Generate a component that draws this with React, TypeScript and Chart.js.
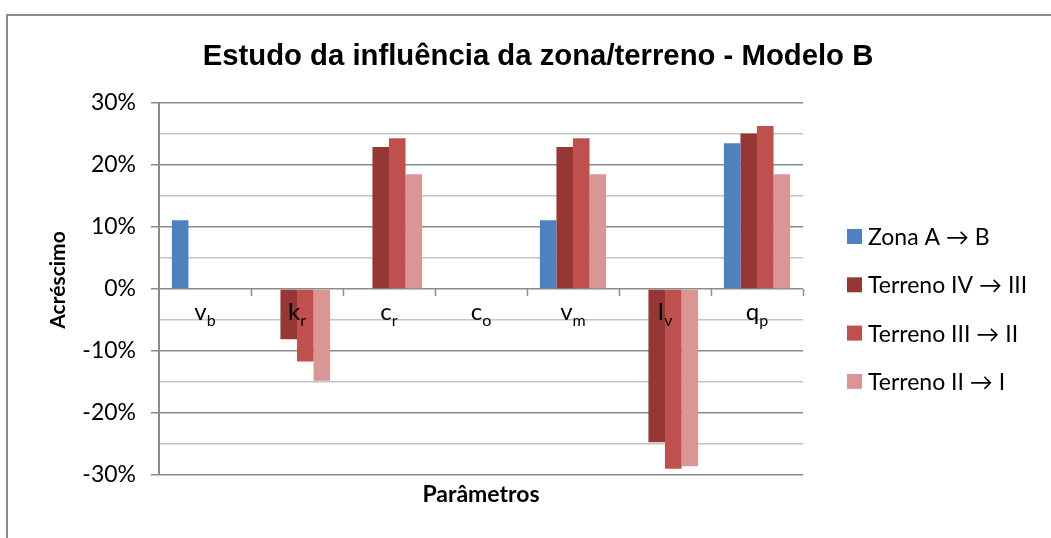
import React, { useEffect, useRef } from "react";
import { Chart, registerables } from "chart.js";

Chart.register(...registerables);

const titleText = "Estudo da influência da zona/terreno - Modelo B";
const yTitle = "Acréscimo";
const xTitle = "Parâmetros";

const catMain = ["v", "k", "c", "c", "v", "I", "q"];
const catSub = ["b", "r", "r", "o", "m", "v", "p"];

const seriesNames = ["Zona A \u2192 B", "Terreno IV \u2192 III", "Terreno III \u2192 II", "Terreno II \u2192 I"];
const seriesColors = ["#4F81BD", "#953735", "#C0504D", "#D99694"];

const zonaAB = [11.1, null, null, null, 11.1, null, 23.5];
const terrenoIVIII = [null, -8.1, 22.9, null, 22.9, -24.7, 25.1];
const terrenoIIIII = [null, -11.7, 24.3, null, 24.3, -29.0, 26.3];
const terrenoIII = [null, -14.8, 18.5, null, 18.5, -28.6, 18.5];

const yMin = -30;
const yMax = 30;
const yStep = 5;
const yLabelStep = 10;

const FONT = "Lato, 'Open Sans', sans-serif";

const overlay = {
  id: "overlay",
  beforeDraw(chart: any) {
    const ctx = chart.ctx;
    ctx.save();
    ctx.fillStyle = "#ffffff";
    ctx.fillRect(0, 0, chart.width, chart.height);
    ctx.strokeStyle = "#8c8c8c";
    ctx.lineWidth = 2;
    ctx.beginPath();
    ctx.moveTo(7, chart.height + 5);
    ctx.lineTo(7, 15);
    ctx.lineTo(chart.width + 5, 15);
    ctx.stroke();

    ctx.fillStyle = "#000";
    ctx.font = "bold 29.3px 'Liberation Sans', Arial, sans-serif";
    ctx.textAlign = "center";
    ctx.textBaseline = "middle";
    ctx.fillText(titleText, 538, 57);

    ctx.font = `bold 21px ${FONT}`;
    ctx.translate(58, 280);
    ctx.rotate(-Math.PI / 2);
    ctx.fillText(yTitle, 0, 0);
    ctx.restore();
  },
  afterDatasetsDraw(chart: any) {
    const ctx = chart.ctx;
    const xs = chart.scales.x;
    const ys = chart.scales.y;
    const y0 = ys.getPixelForValue(0);
    const area = chart.chartArea;
    ctx.save();
    ctx.strokeStyle = "#8a8a8a";
    ctx.lineWidth = 1.5;
    const n = catMain.length;
    const w = (area.right - area.left) / n;
    ctx.beginPath();
    for (let i = 1; i <= n; i++) {
      const x = Math.round(area.left + i * w) + 0.5;
      ctx.moveTo(x, y0);
      ctx.lineTo(x, y0 + 7);
    }
    ctx.stroke();

    ctx.fillStyle = "#000";
    ctx.textBaseline = "alphabetic";
    ctx.textAlign = "left";
    for (let i = 0; i < n; i++) {
      const cx = xs.getPixelForValue(i);
      ctx.font = `24px ${FONT}`;
      const w1 = ctx.measureText(catMain[i]).width;
      ctx.font = `16px ${FONT}`;
      const w2 = ctx.measureText(catSub[i]).width;
      const sx = cx - (w1 + w2) / 2;
      ctx.font = `24px ${FONT}`;
      ctx.fillText(catMain[i], sx, y0 + 30.5);
      ctx.font = `16px ${FONT}`;
      ctx.fillText(catSub[i], sx + w1, y0 + 37);
    }

    const ds = chart.data.datasets;
    ctx.font = `23px ${FONT}`;
    ctx.textBaseline = "middle";
    for (let i = 0; i < ds.length; i++) {
      const cy = 236.5 + i * 48.3;
      ctx.fillStyle = ds[i].backgroundColor;
      ctx.fillRect(847, cy - 7.5, 15, 15);
      ctx.fillStyle = "#000";
      ctx.fillText(ds[i].label, 868, cy + 1);
    }
    ctx.restore();
  },
};

export default function App() {
  const ref = useRef<HTMLCanvasElement>(null);
  useEffect(() => {
    document.body.style.margin = "0";
    const seriesData = [zonaAB, terrenoIVIII, terrenoIIIII, terrenoIII];
    const chart = new Chart(ref.current as HTMLCanvasElement, {
      type: "bar",
      data: {
        labels: catMain.map((m, i) => m + catSub[i]),
        datasets: seriesData.map((d, i) => ({
          label: seriesNames[i],
          data: d,
          backgroundColor: seriesColors[i],
          borderWidth: 0,
          categoryPercentage: 0.72,
          barPercentage: 1.0,
        })),
      },
      options: {
        responsive: false,
        animation: false,
        layout: { padding: { left: 0, right: 248, top: 103, bottom: 0 } },
        plugins: {
          legend: { display: false },
          title: { display: false },
          tooltip: { enabled: false },
        },
        scales: {
          x: {
            grid: { display: false },
            border: { display: false },
            ticks: { display: false },
            title: {
              display: true,
              text: xTitle,
              color: "#000",
              font: { family: FONT, size: 23, weight: "bold" },
              padding: { top: 8, bottom: 30 },
            },
            afterFit: (s: any) => {
              s.height = 63;
            },
          },
          y: {
            min: yMin,
            max: yMax,
            ticks: {
              stepSize: yStep,
              autoSkip: false,
              color: "#000",
              font: { family: FONT, size: 23 },
              padding: 15,
              callback: (v: any) => (Number(v) % yLabelStep === 0 ? `${v}%` : ""),
            },
            grid: {
              color: (c: any) => (c.tick && c.tick.value % yLabelStep === 0 ? "#8a8a8a" : "#c4c4c4"),
              tickColor: (c: any) => (c.tick && c.tick.value % yLabelStep === 0 ? "#8a8a8a" : "rgba(0,0,0,0)"),
              lineWidth: 1.5,
              tickLength: 8,
            },
            border: { display: true, color: "#8a8a8a", width: 2 },
            afterFit: (s: any) => {
              s.width = 159;
            },
          },
        },
      },
      plugins: [overlay],
    });
    return () => chart.destroy();
  }, []);
  return (
    <div style={{ position: "absolute", left: 0, top: 0, width: 1051, height: 538 }}>
      <canvas ref={ref} width={1051} height={538} style={{ display: "block" }} />
    </div>
  );
}
